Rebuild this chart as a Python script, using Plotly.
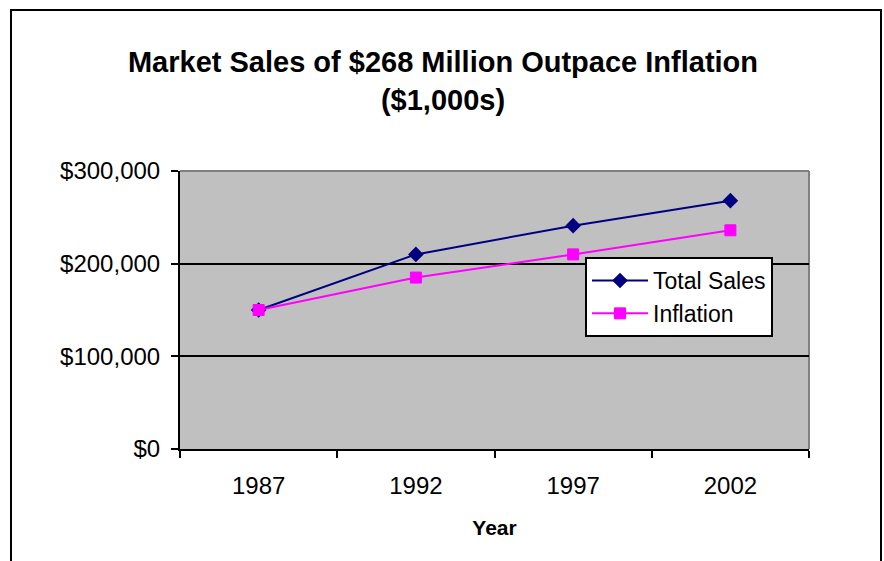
import plotly.graph_objects as go

years = ["1987", "1992", "1997", "2002"]
total_sales = [150000, 210000, 241000, 268000]
inflation = [150000, 185000, 210000, 236000]
y_ticks = [0, 100000, 200000, 300000]
y_tick_labels = ["$0", "$100,000", "$200,000", "$300,000"]

W, H = 884, 561
L, R, T, B = 180, 809, 171, 449  # plot area pixels
pw, ph = R - L, B - T

def px_x(x):
    return (x - L) / pw

def px_y(y):
    return (B - y) / ph

FONT = "Liberation Sans, Arial, sans-serif"

fig = go.Figure()
fig.add_trace(go.Scatter(
    x=years, y=total_sales, name="Total Sales", mode="lines+markers",
    line=dict(color="#000080", width=2),
    marker=dict(symbol="diamond", size=12, color="#000080", line=dict(width=0)),
))
fig.add_trace(go.Scatter(
    x=years, y=inflation, name="Inflation", mode="lines+markers",
    line=dict(color="#FF00FF", width=2),
    marker=dict(symbol="square", size=11, color="#FF00FF", line=dict(width=1, color="#FF00FF")),
))

fig.update_layout(
    width=W, height=H,
    margin=dict(l=L, r=W - R, t=T, b=H - B),
    paper_bgcolor="white",
    plot_bgcolor="#C0C0C0",
    font=dict(family=FONT, color="black", size=24),
    title=dict(
        text="<b>Market Sales of $268 Million Outpace Inflation<br>($1,000s)</b>",
        font=dict(family=FONT, size=29, color="black"),
        x=443 / W, xanchor="center",
        y=1 - 72 / H, yanchor="top",
    ),
    showlegend=True,
    legend=dict(
        x=px_x(585), y=px_y(257), xanchor="left", yanchor="top",
        bgcolor="white", bordercolor="black", borderwidth=2,
        font=dict(family=FONT, size=23, color="black"),
        itemwidth=56,
        tracegroupgap=0,
    ),
    xaxis=dict(
        type="category", range=[-0.5, 3.5],
        tickson="boundaries", ticks="outside", ticklen=7, tickwidth=2, tickcolor="black",
        showline=True, linecolor="black", linewidth=2,
        showgrid=False, zeroline=False,
        ticklabelstandoff=14,
        tickfont=dict(family=FONT, size=24, color="black"),
        title=dict(text="<b>Year</b>", font=dict(family=FONT, size=21, color="black"), standoff=23),
    ),
    yaxis=dict(
        range=[0, 300000], tickvals=y_ticks, ticktext=y_tick_labels,
        ticks="outside", ticklen=7, tickwidth=2, tickcolor="black",
        showline=True, linecolor="black", linewidth=2,
        showgrid=True, gridcolor="black", gridwidth=1.5,
        zeroline=False,
        ticklabelstandoff=6,
        tickfont=dict(family=FONT, size=24, color="black"),
    ),
)

# gray top and right border of plot area
fig.add_shape(type="line", xref="paper", yref="paper", x0=0, x1=1, y0=1, y1=1,
              line=dict(color="#808080", width=2), layer="between")
fig.add_shape(type="line", xref="paper", yref="paper", x0=1, x1=1, y0=0, y1=1,
              line=dict(color="#808080", width=2), layer="between")
# outer chart border (bottom edge off-canvas)
fig.add_shape(type="rect", xref="paper", yref="paper",
              x0=px_x(11), x1=px_x(881), y0=px_y(575), y1=px_y(10),
              line=dict(color="black", width=2), fillcolor="rgba(0,0,0,0)", layer="above")

fig.write_html("out.html", config={"displayModeBar": False},
               post_script="document.body.style.margin='0';document.body.style.overflow='hidden';")
